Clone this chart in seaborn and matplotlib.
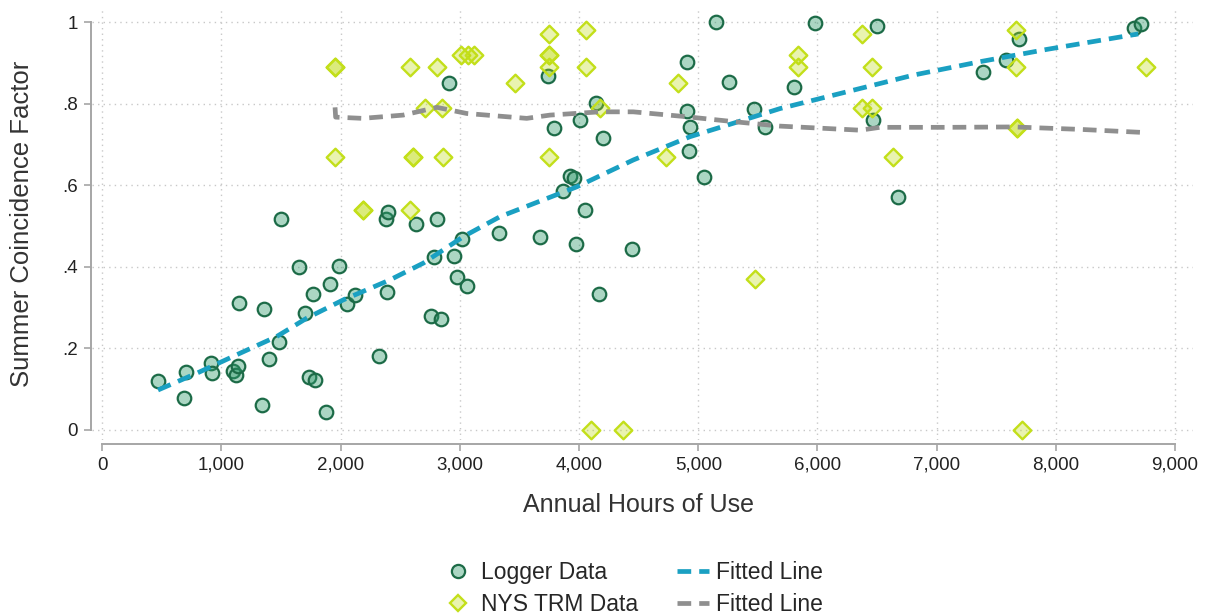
import pandas as pd
import seaborn as sns
import matplotlib.pyplot as plt
from matplotlib.lines import Line2D

# logger data (annual hours of use, summer coincidence factor)
logger_hours = [470, 699, 688, 912, 918, 1147, 1354, 1094, 1119, 1138,
                1496, 1342, 1401, 1485, 1650, 1767, 1701, 1737, 1781, 1910,
                1986, 1874, 2055, 2118, 2324, 2391, 2377, 2399, 2634, 2808,
                2780, 2953, 2973, 3057, 3020, 2758, 2838, 2906, 3736, 3790,
                4007, 4139, 4197, 3924, 3957, 3862, 4050, 4908, 5146, 5261,
                4902, 4930, 4924, 5050, 5467, 5560, 5805, 3328, 3669, 3971,
                4441, 4169, 5976, 6497, 6469, 6678, 7391, 7581, 7688, 8658,
                8712]
logger_cf = [0.120, 0.143, 0.078, 0.165, 0.139, 0.312, 0.296, 0.145, 0.135, 0.158,
             0.518, 0.061, 0.173, 0.216, 0.399, 0.333, 0.286, 0.129, 0.123, 0.359,
             0.402, 0.043, 0.309, 0.332, 0.182, 0.338, 0.517, 0.535, 0.506, 0.517,
             0.423, 0.427, 0.374, 0.354, 0.469, 0.280, 0.273, 0.850, 0.868, 0.741,
             0.761, 0.801, 0.716, 0.623, 0.619, 0.586, 0.539, 0.903, 1.000, 0.852,
             0.782, 0.743, 0.685, 0.620, 0.787, 0.743, 0.840, 0.484, 0.473, 0.457,
             0.443, 0.333, 0.997, 0.991, 0.761, 0.572, 0.878, 0.908, 0.958, 0.985,
             0.995]

# NYS TRM data
trm_hours = [1953, 1953, 2584, 2808, 3010, 3071, 3118, 2708, 2852, 1953,
             2604, 2604, 2856, 2184, 2184, 2584, 3463, 3747, 3747, 3747,
             3747, 3747, 4056, 4056, 4175, 4833, 4726, 5839, 5839, 5478,
             4097, 4366, 6376, 6455, 6371, 6459, 6631, 7663, 7663, 7671,
             7671, 8756, 7718]
trm_cf = [0.89, 0.89, 0.89, 0.89, 0.92, 0.92, 0.92, 0.79, 0.79, 0.67,
          0.67, 0.67, 0.67, 0.54, 0.54, 0.54, 0.85, 0.97, 0.92, 0.92,
          0.89, 0.67, 0.98, 0.89, 0.79, 0.85, 0.67, 0.92, 0.89, 0.37,
          0.0, 0.0, 0.97, 0.89, 0.79, 0.79, 0.67, 0.98, 0.89, 0.74,
          0.74, 0.89, 0.0]

# fitted lines
fit_logger_hours = [468, 792, 1155, 1463, 1715, 2022, 2414, 2693, 3029, 3337,
                    3980, 4455, 4930, 5294, 5686, 6245, 6804, 7364, 7922, 8691]
fit_logger_cf = [0.098, 0.139, 0.188, 0.229, 0.274, 0.319, 0.368, 0.409, 0.474, 0.523,
                 0.596, 0.662, 0.719, 0.752, 0.788, 0.829, 0.870, 0.903, 0.933, 0.971]
fit_trm_hours = [1953, 1958, 2184, 2524, 2808, 3057, 3561, 3756, 4175, 4455,
                 4902, 5294, 5686, 6357, 6524, 7084, 7644, 8202, 8762]
fit_trm_cf = [0.791, 0.767, 0.764, 0.772, 0.791, 0.776, 0.764, 0.772, 0.780, 0.780,
              0.768, 0.756, 0.745, 0.735, 0.742, 0.742, 0.743, 0.737, 0.729]

x_ticks = [0, 1000, 2000, 3000, 4000, 5000, 6000, 7000, 8000, 9000]
y_ticks = [0, 0.2, 0.4, 0.6, 0.8, 1.0]
y_tick_labels = ["0", ".2", ".4", ".6", ".8", "1"]

logger = pd.DataFrame({"hours": logger_hours, "cf": logger_cf})
trm = pd.DataFrame({"hours": trm_hours, "cf": trm_cf})
fit_logger = pd.DataFrame({"hours": fit_logger_hours, "cf": fit_logger_cf})
fit_trm = pd.DataFrame({"hours": fit_trm_hours, "cf": fit_trm_cf})

sns.set_theme(style="white")
plt.rcParams["font.family"] = ["Liberation Sans", "DejaVu Sans"]

GREEN_EDGE = "#1c6b47"
GREEN_FILL = (0.18, 0.60, 0.42, 0.40)
LIME_EDGE = "#c3df1a"
LIME_FILL = (0.75, 0.86, 0.06, 0.33)
BLUE = "#1aa0c2"
GRAY = "#8f8f8f"
DASH = (2.9, 1.7)

fig = plt.figure(figsize=(12.07, 6.15), dpi=100)
ax = fig.add_axes([0.0762, 0.2846, 0.9122, 0.704])

sns.scatterplot(data=logger, x="hours", y="cf", ax=ax, marker="o", s=95,
                color=GREEN_FILL, edgecolor=GREEN_EDGE, linewidth=1.6, zorder=3)
sns.scatterplot(data=trm, x="hours", y="cf", ax=ax, marker="D", s=80,
                color=LIME_FILL, edgecolor=LIME_EDGE, linewidth=1.7, zorder=3)
sns.lineplot(data=fit_logger, x="hours", y="cf", ax=ax, color=BLUE, lw=3.4,
             sort=False, estimator=None, zorder=4, dashes=False).lines[-1].set_dashes(DASH)
sns.lineplot(data=fit_trm, x="hours", y="cf", ax=ax, color=GRAY, lw=3.4,
             sort=False, estimator=None, zorder=4, dashes=False).lines[-1].set_dashes(DASH)

ax.set_xlim(-86, 9150)
ax.set_ylim(-0.0245, 1.037)
ax.set_xticks(x_ticks)
ax.set_xticklabels([f"{v:,}" for v in x_ticks])
ax.set_yticks(y_ticks)
ax.set_yticklabels(y_tick_labels)

ax.set_axisbelow(True)
ax.grid(True, linestyle=(0, (1, 3)), color="#c8c8c8", lw=1.0)

for side in ["top", "right"]:
    ax.spines[side].set_visible(False)
for side in ["left", "bottom"]:
    ax.spines[side].set_color("#a6a6a6")
    ax.spines[side].set_linewidth(1.4)
ax.spines["bottom"].set_position(("outward", 3))
ax.spines["left"].set_position(("outward", 1))
ax.spines["bottom"].set_bounds(0, 9000)
ax.spines["left"].set_bounds(0, 1)
ax.tick_params(axis="both", direction="out", length=5, width=1.2, color="#a6a6a6",
               labelsize=13.5, labelcolor="#222222", pad=4, left=True, bottom=True)

ax.set_xlabel("Annual Hours of Use", fontsize=18, color="#333333")
ax.set_ylabel("Summer Coincidence Factor", fontsize=18.5, color="#333333")
ax.xaxis.set_label_coords(0.496, -0.123)
ax.yaxis.set_label_coords(-0.053, 0.5)

handles = [
    Line2D([], [], ls="none", marker="o", ms=9.5, mfc=GREEN_FILL, mec=GREEN_EDGE, mew=1.6),
    Line2D([], [], ls="none", marker="D", ms=8.5, mfc=LIME_FILL, mec=LIME_EDGE, mew=1.7),
    Line2D([], [], color=BLUE, lw=3.4, dashes=DASH),
    Line2D([], [], color=GRAY, lw=3.4, dashes=DASH),
]
labels = ["Logger Data", "NYS TRM Data", "Fitted Line", "Fitted Line"]
fig.legend(handles, labels, ncol=2, loc="upper center", bbox_to_anchor=(0.524, 0.103),
           frameon=False, fontsize=16.5, handlelength=1.4, handletextpad=0.3,
           columnspacing=1.7, labelspacing=0.4, borderaxespad=0)

fig.savefig("out.png", dpi=100)
